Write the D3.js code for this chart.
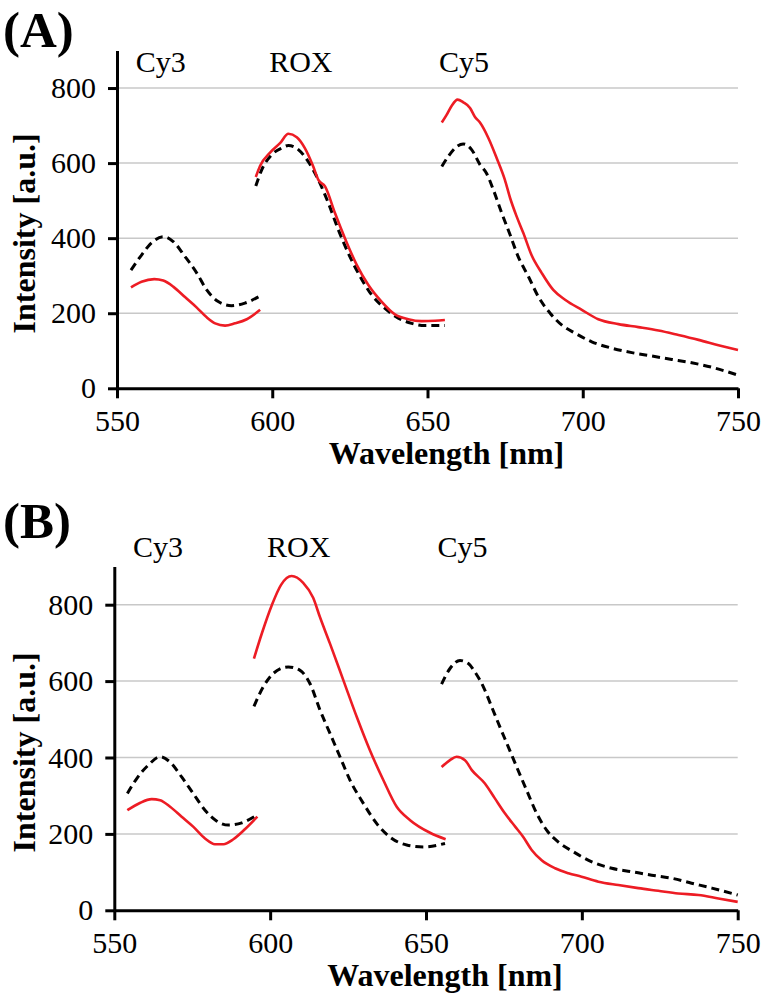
<!DOCTYPE html>
<html>
<head>
<meta charset="utf-8">
<script src="https://cdn.jsdelivr.net/npm/d3@7"></script>
<style>
  html, body { margin: 0; padding: 0; background: #fff; }
  svg { display: block; }
  text { font-family: "Liberation Serif", "Times New Roman", serif; fill: #000; }
</style>
</head>
<body>
<svg id="chart" width="767" height="999"></svg>
<script>
// ---------- DATA (wavelength nm, intensity a.u.) ----------
const xTicks = [550, 600, 650, 700, 750];
const yTicks = [0, 200, 400, 600, 800];
const dyeNames = ["Cy3", "ROX", "Cy5"];
const dyeLabelNm = [556, 599, 653.7];
const panelLetters = ["(A)", "(B)"];

// Panel A
const aCy3Red = [[554.5,269],[557.9,284],[562.0,291],[564.9,287],[568.1,271],[571.9,243],[575.7,215],[578.9,189],[581.6,173],[584.8,167],[588.0,173],[591.8,184],[596.1,209]];
const aCy3Black = [[554.5,315],[557.9,355],[561.2,388],[564.9,404],[568.1,391],[571.9,351],[575.7,307],[578.9,262],[582.6,231],[586.9,220],[591.2,227],[596.1,246]];
const aRoxRed = [[594.7,563],[596.1,593],[599.3,628],[602.5,653],[605.2,678],[607.9,669],[610.5,640],[613.2,591],[614.8,556],[617.0,538],[620.2,467],[623.4,400],[627.2,329],[630.9,276],[635.2,231],[639.5,197],[643.8,184],[648.1,179],[652.4,180],[655.6,182]];
const aRoxBlack = [[594.7,539],[596.6,582],[599.8,622],[603.0,640],[605.2,647],[608.4,636],[611.6,604],[614.8,556],[618.1,493],[621.3,422],[624.5,360],[628.3,298],[632.0,249],[636.3,213],[640.6,187],[644.9,173],[649.2,167],[655.6,167]];
const aCy5Red = [[654.6,708],[656.2,729],[657.8,753],[659.7,769],[661.5,762],[663.7,747],[665.3,723],[666.9,708],[669.6,667],[672.3,613],[674.9,556],[676.6,507],[678.7,458],[680.9,413],[683.5,355],[686.8,307],[690.5,262],[694.3,236],[699.7,209],[705.0,184],[711.5,171],[717.9,163],[724.4,154],[730.8,142],[737.3,129],[743.7,115],[750,102]];
const aCy5Black = [[654.6,591],[656.7,618],[659.4,644],[661.5,651],[664.2,636],[666.9,596],[669.0,573],[671.2,529],[673.9,467],[676.6,409],[679.2,351],[682.5,298],[685.7,244],[689.5,200],[693.2,169],[697.5,147],[702.9,124],[709.3,107],[715.8,95],[722.2,86],[728.7,77],[735.1,68],[741.6,56],[750,35]];

// Panel B
const bCy3Red = [[554.2,262],[558.2,281],[562.0,291],[564.7,288],[567.9,271],[571.6,245],[575.3,219],[579.1,188],[582.3,173],[585.0,173],[588.2,186],[591.9,212],[595.9,245]];
const bCy3Black = [[554.2,306],[557.2,345],[560.9,380],[564.7,402],[567.9,388],[571.6,349],[575.3,306],[579.1,262],[582.8,234],[586.6,223],[590.9,229],[595.7,249]];
const bRoxRed = [[594.8,659],[597.3,724],[600.5,798],[603.5,852],[606.9,875],[610.6,857],[613.8,818],[616.0,767],[619.2,698],[623.5,602],[627.8,506],[632.0,419],[636.3,341],[640.6,271],[644.9,236],[651.3,203],[656.3,186]];
const bRoxBlack = [[594.8,534],[597.8,585],[601.0,620],[605.8,637],[609.6,628],[612.8,593],[616.0,524],[619.2,463],[622.4,402],[625.6,341],[629.9,280],[634.2,227],[638.4,192],[643.8,171],[649.4,166],[656.1,175]];
const bCy5Red = [[655.0,375],[657.7,393],[659.8,402],[662.5,393],[664.7,367],[668.9,332],[672.1,293],[675.3,254],[678.6,219],[681.2,192],[683.9,158],[687.1,131],[691.4,110],[695.7,97],[699.9,88],[705.3,75],[711.7,66],[718.1,58],[724.5,51],[730.9,44],[737.4,40],[743.8,31],[750,22]];
const bCy5Black = [[655.0,592],[657.7,633],[660.9,654],[663.6,646],[665.7,624],[668.4,585],[671.1,532],[673.7,480],[676.4,428],[679.1,375],[682.3,314],[685.5,254],[688.7,210],[692.4,179],[697.3,153],[703.2,127],[709.6,110],[716.0,101],[722.4,92],[728.8,84],[735.2,71],[741.7,58],[750,40]];

// ---------- LAYOUT ----------
const panels = [
  { letter: panelLetters[0], x0: 117, x1: 738, yBottom: 388.3, yTop: 50.5, letterY: 47, dyeY: 72,
    red: [aCy3Red, aRoxRed, aCy5Red], black: [aCy3Black, aRoxBlack, aCy5Black] },
  { letter: panelLetters[1], x0: 114.3, x1: 737.7, yBottom: 910.3, yTop: 566.5, letterY: 538, dyeY: 557,
    red: [bCy3Red, bRoxRed, bCy5Red], black: [bCy3Black, bRoxBlack, bCy5Black] }
];

const svg = d3.select("#chart");

panels.forEach(p => {
  const x = d3.scaleLinear().domain([550, 750]).range([p.x0, p.x1]);
  const y = d3.scaleLinear().domain([0, 900]).range([p.yBottom, p.yTop]);
  const g = svg.append("g");

  // gridlines
  g.append("g").selectAll("line").data(yTicks.filter(d => d > 0)).join("line")
    .attr("x1", x(550)).attr("x2", x(750))
    .attr("y1", d => y(d)).attr("y2", d => y(d))
    .attr("stroke", "#c8c8c8").attr("stroke-width", 1.5);

  // curves
  const line = d3.line().x(d => x(d[0])).y(d => y(d[1])).curve(d3.curveMonotoneX);
  p.black.forEach(s => {
    g.append("path").attr("d", line(s)).attr("fill", "none")
      .attr("stroke", "#000").attr("stroke-width", 3).attr("stroke-dasharray", "8,5");
  });
  p.red.forEach(s => {
    g.append("path").attr("d", line(s)).attr("fill", "none")
      .attr("stroke", "#ed1c24").attr("stroke-width", 2.6).attr("stroke-linejoin", "round");
  });

  // axes
  const yAxis = d3.axisLeft(y).tickValues(yTicks).tickSize(9).tickSizeOuter(0).tickPadding(12);
  const ya = g.append("g").attr("transform", `translate(${x(550)},0)`).call(yAxis);
  const xAxis = d3.axisBottom(x).tickValues(xTicks).tickSize(10).tickSizeOuter(0).tickPadding(11);
  const xa = g.append("g").attr("transform", `translate(0,${y(0)})`).call(xAxis);
  [ya, xa].forEach(a => {
    a.attr("font-family", null);
    a.select(".domain").attr("stroke", "#000").attr("stroke-width", 3);
    a.selectAll(".tick line").attr("stroke", "#000").attr("stroke-width", 3);
    a.selectAll(".tick text").attr("font-size", 30).attr("fill", "#000");
  });

  // axis titles
  g.append("text")
    .attr("x", (p.x0 + p.x1) / 2 + 19).attr("y", p.yBottom + 76)
    .attr("text-anchor", "middle").attr("font-weight", "bold").attr("font-size", 32)
    .text("Wavelength [nm]");
  g.append("text")
    .attr("transform", `translate(35,${(p.yTop + p.yBottom) / 2 + 14}) rotate(-90)`)
    .attr("text-anchor", "middle").attr("font-weight", "bold").attr("font-size", 32)
    .text("Intensity [a.u.]");

  // dye labels
  g.append("g").selectAll("text").data(dyeNames).join("text")
    .attr("x", (d, i) => x(dyeLabelNm[i])).attr("y", p.dyeY)
    .attr("font-size", 30).text(d => d);

  // panel letter
  g.append("text").attr("x", 3).attr("y", p.letterY)
    .attr("font-weight", "bold").attr("font-size", 51).text(p.letter);
});
</script>
</body>
</html>
